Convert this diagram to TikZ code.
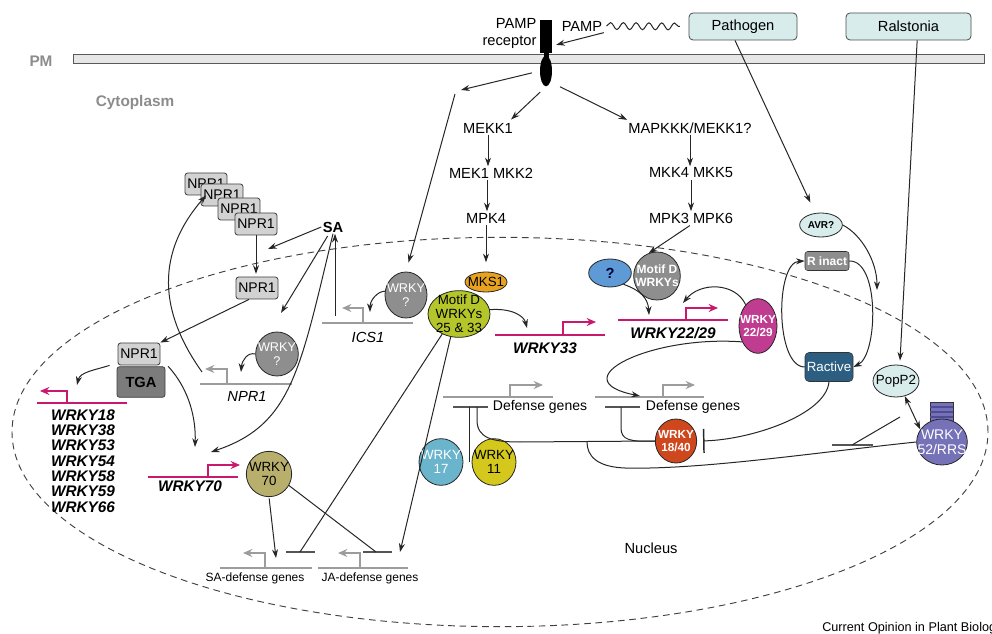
\documentclass[tikz,border=0pt]{standalone}
\usepackage{fontspec}
\setmainfont{Liberation Sans}
\usetikzlibrary{arrows.meta,shapes.geometric,decorations.pathmorphing}

\definecolor{pmfill}{HTML}{E6E6E6}
\definecolor{cyanbox}{HTML}{D8ECEC}
\definecolor{genepink}{HTML}{C8196E}
\definecolor{promgray}{HTML}{9C9C9C}
\definecolor{bargray}{HTML}{555555}
\definecolor{labgray}{HTML}{8C8C8C}
\definecolor{wgray}{HTML}{8E8E8E}
\definecolor{limegreen}{HTML}{B4C62A}
\definecolor{mksorange}{HTML}{E8A21F}
\definecolor{wblue}{HTML}{6AB4CC}
\definecolor{wyellow}{HTML}{D5C81C}
\definecolor{wolive}{HTML}{B8AF6C}
\definecolor{wred}{HTML}{CF471D}
\definecolor{wmagenta}{HTML}{C03C90}
\definecolor{qblue}{HTML}{5E9AD6}
\definecolor{wpurple}{HTML}{7672B8}
\definecolor{hatpurple}{HTML}{4E4A94}
\definecolor{ractblue}{HTML}{2B5E80}
\definecolor{nprgray}{HTML}{D2D2D2}
\definecolor{tgagray}{HTML}{7C7C7C}

\newcommand{\setfs}[1]{\fontsize{#1}{#1}\selectfont}
\newcommand{\promline}[7]{%
  \draw[#1] (#2,#4) -- (#3,#4);
  \draw[#1,-{Stealth[length=7pt,width=6pt]}] (#5,#4) -- (#5,#4-#7) -- (#6,#4-#7);}

\tikzset{
  >={Stealth[length=6.5pt,width=4.5pt]},
  link/.style={black!85,line width=0.75pt},
  sig/.style={font=\fontsize{11}{12.5}\selectfont,inner sep=1pt},
  side/.style={font=\setfs{11.5}\bfseries,text=labgray,inner sep=0pt},
  genelab/.style={font=\fontsize{11.5}{11.5}\selectfont\bfseries\itshape,inner sep=0pt},
  cbox/.style={rectangle,rounded corners=3pt,draw=black!70,fill=cyanbox,line width=0.6pt,font=\setfs{11},inner sep=0pt},
  nbox/.style={rectangle,rounded corners=2pt,draw=black!75,fill=nprgray,line width=0.6pt,font=\setfs{10.5},inner sep=0pt,minimum width=31.5pt,minimum height=16.5pt},
  tf/.style={ellipse,draw=black!85,line width=0.6pt,inner sep=0pt},
  tt/.style={align=center,inner sep=0pt,font=\fontsize{10}{10.5}\selectfont},
  prom/.style={promgray,line width=1.3pt},
  pinkprom/.style={genepink,line width=1.3pt},
  rbar/.style={bargray,line width=1.2pt},
}

\begin{document}
\begin{tikzpicture}[x=0.75pt,y=-0.75pt]
\useasboundingbox (0,0) rectangle (992,634);

\draw[black!75,line width=0.7pt,dash pattern=on 5pt off 3.5pt] (500,432) ellipse [x radius=366pt,y radius=146pt];
\draw[black!65,fill=pmfill,line width=0.7pt] (73,54) rectangle (984,63);
\node[side] (pm) at (41,61) {PM};
\node[side] (cyto) at (135,103) {Cytoplasm};
\node[sig] (nuc) at (651,548) {Nucleus};
\node[font=\setfs{9.5},anchor=base west,inner sep=0pt] (cop) at (822,631) {Current Opinion in Plant Biology};

\node[fill=black,inner sep=0pt,minimum width=9pt,minimum height=24.75pt] (rct) at (546,36.5) {};
\fill (543.5,50) rectangle (548.5,60);
\node[ellipse,fill=black,inner sep=0pt,minimum width=9pt,minimum height=23pt] (rcp) at (546,71) {};
\node[sig,align=right,anchor=east] (rlab) at (538,33.5) {PAMP\\receptor};
\node[sig] (pamp) at (582,26) {PAMP};
\node[cbox,minimum width=81pt,minimum height=20.25pt] (path) at (743,26.5) {Pathogen};
\node[cbox,minimum width=93.75pt,minimum height=20.25pt] (ral) at (908.5,26.5) {Ralstonia};

\node[sig] (mekk) at (488,128) {MEKK1};
\node[sig] (mek) at (491,173) {MEK1 MKK2};
\node[sig] (mpk4) at (486,218) {MPK4};
\node[sig] (mapk) at (690,128) {MAPKKK/MEKK1?};
\node[sig] (mkk) at (691,173) {MKK4 MKK5};
\node[sig] (mpk3) at (691,218) {MPK3 MPK6};
\node[font=\setfs{11}\bfseries,inner sep=1pt] (sa) at (333,227) {SA};

\node[nbox] (n1) at (206,184) {NPR1};
\node[nbox] (n2) at (222,195) {NPR1};
\node[nbox] (n3) at (239,209) {NPR1};
\node[nbox] (n4) at (256,224) {NPR1};
\node[nbox] (n5) at (257,288) {NPR1};
\node[nbox] (nt) at (139,354) {NPR1};
\node[nbox,fill=tgagray,minimum width=36pt,minimum height=23pt,font=\setfs{11}\bfseries] (tga) at (141,382) {TGA};

\node[tf,fill=mksorange,minimum width=31.5pt,minimum height=15pt,label={[tt]center:MKS1}] (mks) at (486,282) {};
\node[tf,fill=limegreen,minimum width=46.5pt,minimum height=35pt,label={[tt]center:Motif D\\WRKYs\\25 \& 33}] (md) at (459,314) {};
\node[tf,fill=wgray,minimum width=31.5pt,minimum height=34.5pt,label={[tt,text=white,font=\fontsize{9.5}{11}\selectfont]center:WRKY\\?}] (wq1) at (406,295) {};
\node[tf,fill=wgray,minimum width=32pt,minimum height=33pt,label={[tt,text=white,font=\fontsize{9.5}{11}\selectfont]center:WRKY\\?}] (wq2) at (277,354) {};
\node[tf,fill=qblue,minimum width=32pt,minimum height=21pt,label={[tt,text=black!80!blue,font=\setfs{11}\bfseries]center:?}] (qm) at (610,273) {};
\node[tf,fill=wgray,minimum width=35pt,minimum height=36pt,label={[tt,text=white,font=\fontsize{9}{10}\selectfont\bfseries]center:Motif D\\WRKYs}] (mdg) at (657,276) {};
\node[tf,fill=wmagenta,minimum width=28.5pt,minimum height=41pt,label={[tt,text=white,font=\fontsize{8.8}{10}\selectfont\bfseries]center:WRKY\\22/29}] (w2229) at (758,326) {};
\node[tf,fill=wolive,minimum width=34pt,minimum height=34pt,label={[tt]center:WRKY\\70}] (w70) at (269,474) {};
\node[tf,fill=wblue,minimum width=33pt,minimum height=35pt,label={[tt,text=white]center:WRKY\\17}] (w17) at (441,462) {};
\node[tf,fill=wyellow,minimum width=33pt,minimum height=35pt,label={[tt]center:WRKY\\11}] (w11) at (494,462) {};
\node[tf,fill=wred,minimum width=31pt,minimum height=33pt,label={[tt,text=white,font=\fontsize{8.8}{10}\selectfont\bfseries]center:WRKY\\18/40}] (w1840) at (676,441) {};

\node[tf,fill=cyanbox,minimum width=32pt,minimum height=18pt,label={[tt,font=\setfs{7.5}\bfseries]center:AVR?}] (avr) at (821,225) {};
\node[rectangle,rounded corners=2pt,draw=black!80,fill=wgray,inner sep=0pt,minimum width=33pt,minimum height=14.25pt,text=white,font=\setfs{9}\bfseries] (rin) at (827,261) {R inact};
\node[rectangle,rounded corners=3pt,draw=black!80,fill=ractblue,inner sep=0pt,minimum width=36pt,minimum height=21.75pt,text=white,font=\setfs{10}] (ract) at (829,367) {Ractive};
\node[tf,fill=cyanbox,minimum width=34.5pt,minimum height=24pt,label={[tt,font=\setfs{10}]center:PopP2}] (popp) at (896,381) {};
\draw[black!80,fill=wpurple,line width=0.6pt] (930,402) rectangle (953,422);
\draw[hatpurple,line width=1pt] (930,407) -- (953,407) (930,412) -- (953,412) (930,417) -- (953,417);
\node[tf,fill=wpurple,minimum width=38pt,minimum height=34.5pt,label={[tt,text=white,font=\fontsize{10.5}{11}\selectfont]center:WRKY\\52/RRS}] (w52) at (942,442) {};

\promline{pinkprom}{37}{127}{403}{67}{40}{12}
\promline{pinkprom}{148}{238}{477}{208}{240}{12}
\promline{pinkprom}{495}{605}{335}{563}{596}{13}
\promline{pinkprom}{618}{728}{320}{686}{718}{12}
\promline{prom}{322}{413}{323}{363}{342}{15}
\promline{prom}{200}{292}{384}{227}{205}{15}
\promline{prom}{443}{553}{397}{510}{543}{12}
\promline{prom}{595}{704}{397}{663}{695}{12}
\promline{prom}{220}{312}{568}{265}{243}{15}
\promline{prom}{318}{408}{568}{360}{338}{15}
\draw[rbar] (453,407) -- (488,407);
\draw[rbar] (605,407) -- (640,407);
\draw[rbar] (286,552) -- (315,552);
\draw[rbar] (363,552) -- (392,552);
\draw[rbar] (832,445) -- (873,445);

\node[genelab,align=center] (wlist) at (83,461) {WRKY18\\WRKY38\\WRKY53\\WRKY54\\WRKY58\\WRKY59\\WRKY66};
\node[genelab] (g70) at (190,486) {WRKY70};
\node[genelab] (g33) at (545,348) {WRKY33};
\node[genelab] (g2229) at (673,333) {WRKY22/29};
\node[font=\setfs{11}\itshape,inner sep=0pt] (gics) at (368,337) {ICS1};
\node[font=\setfs{11}\itshape,inner sep=0pt] (gnpr) at (247,396) {NPR1};
\node[font=\setfs{10.5},inner sep=0pt] (dg1) at (540,407) {Defense genes};
\node[font=\setfs{10.5},inner sep=0pt] (dg2) at (693,407) {Defense genes};
\node[font=\setfs{9},inner sep=0pt] (sadg) at (255,578) {SA-defense genes};
\node[font=\setfs{9},inner sep=0pt] (jadg) at (370,578) {JA-defense genes};

\coordinate (rt) at (461,90);
\coordinate (icsout) at (335,316);
\coordinate (nprin) at (268,249);
\coordinate (nprout) at (202,372);
\coordinate (p18) at (77,385);
\coordinate (w70in) at (211,452);
\coordinate (w70in2) at (195,447);
\coordinate (w22in) at (683,303);
\coordinate (w33in) at (527,328);
\coordinate (qin) at (649,315);
\coordinate (dg2in) at (640,396);
\coordinate (icsin) at (370,312);
\coordinate (nprpin) at (241,372);
\coordinate (rloop) at (877,290);
\coordinate (d1bar) at (469,407);
\coordinate (d1bar2) at (477,407);
\coordinate (d2bar) at (621,407);
\coordinate (jn) at (587,442);
\coordinate (ppbar) at (852,445);
\coordinate (ppout) at (900,417);
\coordinate (sadin) at (276,558);
\coordinate (sadbar) at (300,552);
\coordinate (jadbar) at (376,552);
\coordinate (jadin) at (400,552);

\draw[link,decorate,decoration={snake,amplitude=2.6pt,segment length=9.6pt}] ([xshift=2pt]pamp.east) -- ([xshift=-6.5pt]path.west);
\draw[link,->,shorten >=3pt] (pamp.south east) -- ([yshift=-7pt]rct.east);
\draw[link,->] ([xshift=-6pt]path.south) -- ([shift={(-8pt,7.5pt)}]avr.north);
\draw[link,->] ([xshift=6.5pt]ral.south) -- ([shift={(3pt,3pt)}]popp.north);

\draw[link,->,shorten <=6pt] (rcp.west) -- (rt);
\draw[link,->,shorten >=7pt] ([shift={(-4.5pt,-3pt)}]rt) -- (wq1.north);
\draw[link,->,shorten <=6pt,shorten >=2pt] (rcp.south) -- ([xshift=-4pt]mekk.north east);
\draw[link,->,shorten <=8pt,shorten >=2pt] (rcp.south east) -- ([xshift=2pt]mapk.north west);
\draw[link,->] (mekk.south) -- (mekk.south |- mek.north);
\draw[link,->] ([xshift=-3pt]mek.south) -- ([xshift=-3pt]mek.south |- mpk4.north);
\draw[link,->,shorten >=7pt] (mpk4.south) -- (mks.north);
\draw[link,->] (mapk.south) -- (mapk.south |- mkk.north);
\draw[link,->] (mkk.south) -- (mkk.south |- mpk3.north);
\draw[link,->,shorten <=1pt] (mpk3.south) -- (mdg.110);

\draw[link,->] (wq1.170) .. controls (378,291) and (370,300) .. (icsin);
\draw[link,->] (icsout) -- (icsout |- sa.south);
\draw[link,->] (sa.west) -- (nprin);
\draw[link,->,shorten <=2pt] ([xshift=-3pt]sa.south) -- ([shift={(3pt,14pt)}]wq2.north);
\draw[link,->] (sa.south) .. controls (300,370) and (292,425) .. (w70in);
\draw[link,->,shorten >=2pt] (n4.south) -- (n4.south |- n5.north);
\draw[link,->] ([xshift=-6pt]n5.south) -- (nt.north east);
\draw[link,->] (nprout) .. controls (165,320) and (150,260) .. (n1.south);
\draw[link,->] (wq2.west) .. controls (248,352) and (242,360) .. (nprpin);
\draw[link,->] ([xshift=-6pt]nt.south west) .. controls (95,370) and (80,372) .. (p18);
\draw[link,->] ([xshift=2pt]tga.north east) .. controls (190,390) and (196,420) .. (w70in2);

\draw[link,->,shorten <=1pt] (w70.south) -- (sadin);
\draw[link] (w70.-30) -- (jadbar);
\draw[link] (md.230) -- (sadbar);
\draw[link,->] (md.250) -- (jadin);
\draw[link,->] (md.8) .. controls (512,308) and (524,316) .. (w33in);
\draw[link,->] (qm.-40) .. controls (640,290) and (648,298) .. (qin);
\draw[link,->] (w2229.120) .. controls (735,282) and (700,282) .. (w22in);
\draw[link,->] (w2229.225) .. controls (650,335) and (560,380) .. (dg2in);

\draw[link] (d1bar) -- (d1bar |- w17.east);
\draw[link] (d1bar2) -- (477,420) .. controls (477,438) and (492,442) .. (520,442) -- (w1840.west);
\draw[link] (d2bar) -- (621,428) .. controls (621,440) and (630,442) .. (w1840.west);
\draw[link] (w52.west) .. controls (820,452) and (700,470) .. (625,468) .. controls (597,467) and (587,456) .. (jn);
\draw[link,-{Bar[width=18pt,line width=1.1pt]},shorten >=4.5pt] (ract.south) .. controls (826,415) and (750,440) .. (w1840.east);
\draw[link] (ppout) -- (ppbar);
\draw[link,<->] (popp.-60) -- (w52.150);

\draw[link,->] (avr.east) .. controls (862,235) and (877,262) .. (rloop);
\draw[link,->] (rin.east) .. controls (880,260) and (878,355) .. (ract.east);
\draw[link,->] (ract.west) .. controls (775,367) and (775,262) .. (rin.west);
\end{tikzpicture}
\end{document}
